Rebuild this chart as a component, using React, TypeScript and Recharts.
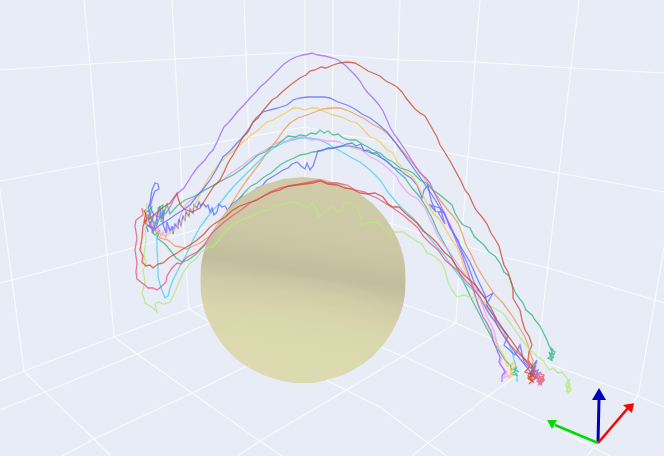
import React from 'react';
import { ComposedChart, Line, Area, XAxis, YAxis } from 'recharts';

type P = number[][];

// Back walls, floor: projected scene grid
const gridLines: P[] = [
  [[84, 0], [90, 64], [98, 163], [107, 255], [110, 290], [114, 337]],
  [[0, 190], [12, 280], [24, 371]],
  [[172, 0], [175, 59], [180, 148], [185, 253], [189, 309]],
  [[244, 0], [246, 55], [250, 180], [250, 287]],
  [[305, 0], [305, 52], [305, 268]],
  [[333, 0], [333, 55], [332, 175], [333, 278]],
  [[400, 0], [398, 60], [392, 225], [392, 300]],
  [[480, 0], [475, 62], [468, 157], [458, 287], [456, 323]],
  [[579, 0], [571, 68], [559, 173], [544, 300], [538, 360]],
  [[664, 247], [655, 300], [638, 396]],
  [[0, 70], [90, 64], [175, 59], [246, 55], [305, 52], [333, 55], [398, 60], [475, 62], [571, 68], [664, 73]],
  [[0, 181], [98, 163], [180, 148], [213, 143], [305, 127], [340, 135], [380, 140], [420, 148], [468, 157], [559, 173], [664, 192]],
  [[0, 283], [12, 280], [107, 255], [207, 227], [305, 205], [390, 223], [420, 233], [503, 257], [548, 268], [655, 300], [664, 303]],
  [[0, 381], [24, 371], [114, 337], [189, 309], [305, 268], [400, 303], [456, 323], [538, 360], [638, 396], [664, 407]],
  [[24, 371], [45, 392], [94, 439], [111, 456]],
  [[114, 337], [137, 354], [192, 393], [260, 441], [282, 456]],
  [[250, 287], [380, 347], [403, 356], [488, 396], [550, 425], [610, 456]],
  [[189, 309], [210, 322], [380, 407], [428, 443], [447, 456]],
  [[0, 410], [45, 392], [137, 354], [210, 323], [333, 273]],
  [[62, 456], [94, 439], [192, 393], [247, 366], [392, 300]],
  [[456, 323], [403, 356], [380, 370], [260, 441], [237, 456]],
  [[538, 360], [488, 396], [428, 443], [412, 456]],
  [[638, 396], [597, 443], [587, 456]],
];

const purplePath: P = [[147,216],[146,210],[150,213],[148,220],[145,222],[149,226],[153,218],[150,225],[155,230],[158,222],[156,215],[160,218],[166,213],[170,207],[174,199],[178,193],[184,188],[192,175],[197,168],[200,165],[205,160],[209,154],[213,150],[217,142],[221,133],[224,127],[229,122],[234,116],[238,111],[244,105],[250,98],[256,92],[260,87],[265,83],[271,77],[275,73],[279,69],[284,64],[290,60],[296,57],[303,55],[308,54],[312,53],[318,55],[325,56],[333,58],[338,60],[345,65],[350,70],[355,75],[360,81],[364,88],[368,93],[374,99],[379,105],[383,111],[387,120],[390,127],[394,134],[399,141],[404,148],[409,156],[414,164],[420,173],[426,178],[430,183],[433,190],[437,198],[441,206],[445,215],[450,226],[455,238],[460,250],[465,264],[470,279],[473,288],[478,304],[483,317],[487,323],[491,331],[493,340],[497,350],[500,357],[499,362],[503,368],[505,372],[502,376],[502,382]];

const redHighPath: P = [[146,212],[144,222],[150,218],[155,214],[162,208],[170,203],[177,193],[178,198],[180,204],[184,209],[192,212],[200,208],[205,200],[210,192],[214,186],[220,180],[224,172],[228,163],[233,155],[238,146],[243,137],[248,132],[253,122],[258,118],[262,112],[267,106],[272,100],[277,97],[282,92],[288,87],[293,83],[300,78],[306,75],[310,71],[315,70],[321,67],[326,68],[333,65],[340,63],[347,62],[355,63],[362,67],[368,71],[373,73],[380,76],[386,81],[392,84],[397,87],[402,92],[406,98],[410,103],[415,109],[420,113],[425,116],[429,123],[433,130],[437,137],[440,145],[444,151],[450,161],[456,172],[461,181],[465,190],[469,195],[473,204],[476,210],[482,217],[487,224],[491,233],[495,239],[499,246],[501,254],[504,265],[508,272],[512,285],[513,290],[513,298],[517,305],[520,310],[522,320],[525,330],[529,336],[532,345],[529,352],[528,360],[532,366],[534,373],[530,378],[533,382],[528,376],[532,370],[529,380]];

const bluePath: P = [[150,226],[155,229],[160,225],[168,220],[175,215],[183,210],[190,205],[197,196],[204,188],[210,180],[216,170],[223,157],[230,151],[237,143],[243,137],[250,127],[256,118],[263,112],[270,110],[278,108],[287,105],[293,100],[300,98],[308,97],[317,97],[324,97],[330,98],[338,102],[347,105],[355,109],[362,114],[370,118],[378,124],[387,132],[395,142],[403,153],[410,163],[417,173],[424,183],[432,195],[440,208],[445,215],[450,225],[456,238],[462,249],[470,262],[477,278],[485,295],[488,307],[494,316],[497,325],[503,335],[510,345],[516,354],[525,365],[529,370],[532,375],[536,366],[533,372],[537,360],[531,368],[535,375]];

const blueNoisyPath: P = [[148,232],[146,224],[151,228],[148,218],[150,212],[148,208],[150,203],[152,190],[155,183],[158,184],[159,189],[155,191],[153,196],[150,207],[154,215],[150,224],[153,232],[156,222],[158,212],[160,206],[161,218],[164,210],[163,224],[166,233],[167,222],[170,231],[172,226],[173,234],[175,224],[178,228],[179,219],[181,225],[183,216],[185,220],[186,212],[189,216],[190,209],[193,213],[194,205],[197,208],[199,202],[201,206],[203,203],[206,207],[208,205],[210,212],[212,208],[214,215],[217,212],[219,204],[222,207],[225,206],[228,211],[232,204],[238,200],[243,196],[248,200],[253,192],[257,188],[262,186],[267,180],[272,177],[277,174],[283,170],[288,168],[292,164],[297,162],[301,166],[305,169],[307,163],[310,170],[313,166],[318,151],[323,150],[328,148],[333,148],[337,147],[342,146],[347,144],[352,143],[356,146],[361,144],[364,151],[368,150],[372,153],[377,153],[382,158],[388,162],[393,167],[400,170],[406,175],[411,178],[417,185],[422,198],[424,190],[428,185],[431,200],[436,212],[430,205],[440,208],[445,224],[438,212],[444,212],[450,228],[458,240],[462,252],[468,265],[474,282],[478,290],[485,298],[493,293],[486,305],[493,315],[500,325],[508,336],[504,345],[515,355],[520,345],[524,362],[530,368],[534,366],[531,374],[537,378],[533,372],[538,370],[534,380]];

const orangePath: P = [[150,222],[155,230],[160,238],[168,240],[175,246],[180,247],[187,249],[193,246],[200,243],[210,236],[218,226],[225,214],[232,203],[240,190],[247,180],[253,172],[260,163],[266,154],[272,146],[277,140],[283,131],[290,123],[298,118],[307,115],[315,112],[323,109],[331,108],[340,108],[349,111],[357,115],[365,119],[372,124],[380,128],[388,134],[394,141],[400,148],[410,160],[420,172],[428,183],[434,192],[440,200],[447,209],[453,216],[458,223],[462,233],[466,245],[470,252],[476,265],[483,277],[489,286],[495,295],[503,303],[508,310],[513,317],[519,327],[525,337],[528,345],[530,353],[533,360],[532,367]];

const yellowPath: P = [[146,224],[150,215],[153,228],[158,232],[165,236],[172,232],[180,224],[187,215],[194,207],[200,195],[207,180],[213,172],[220,163],[227,156],[235,150],[243,142],[250,136],[258,130],[267,122],[273,120],[280,116],[287,112],[293,108],[298,108],[305,110],[311,108],[317,108],[323,111],[333,115],[342,117],[350,121],[357,123],[363,129],[370,137],[376,139],[380,142],[387,150],[393,153],[397,162],[400,165],[406,172],[413,177],[419,188],[427,203],[433,213],[440,220],[446,230],[452,240],[457,247],[462,261],[466,272],[470,280],[475,297],[480,310],[486,322],[490,331],[496,342],[501,351],[505,358],[507,366],[513,363],[510,370],[513,375],[509,378],[511,372],[515,366]];

const greenHighPath: P = [[148,212],[152,206],[150,218],[156,224],[160,218],[158,208],[163,205],[161,222],[165,210],[167,204],[170,214],[177,206],[185,200],[195,196],[205,190],[214,185],[223,180],[233,175],[243,168],[250,162],[258,155],[265,152],[270,148],[276,146],[283,140],[288,136],[295,137],[300,135],[306,136],[311,133],[316,134],[320,130],[324,133],[328,131],[333,135],[338,134],[343,138],[350,140],[356,140],[362,144],[368,147],[373,150],[380,153],[387,159],[393,162],[400,168],[407,170],[413,173],[420,180],[426,183],[433,190],[440,195],[446,200],[452,205],[455,213],[459,220],[463,225],[470,228],[474,236],[478,240],[484,245],[489,252],[495,256],[500,263],[504,272],[509,276],[513,287],[515,292],[519,298],[523,303],[526,310],[532,315],[535,320],[540,326],[544,334],[547,340],[549,346],[553,350],[551,354],[554,358],[549,352],[552,360],[548,358],[553,354],[550,348],[555,352],[551,361]];

const greenLowPath: P = [[150,216],[154,224],[152,232],[155,235],[160,230],[157,238],[165,244],[170,250],[176,258],[182,262],[188,260],[195,255],[202,248],[210,240],[216,232],[222,222],[230,210],[237,201],[245,192],[251,186],[257,183],[264,177],[271,173],[280,165],[287,161],[294,158],[300,155],[306,154],[313,152],[320,151],[327,149],[335,148],[342,146],[350,146],[360,148],[368,152],[376,155],[385,160],[392,166],[398,172],[405,178],[412,188],[419,196],[425,205],[432,218],[438,232],[445,245],[451,256],[458,270],[465,285],[472,300],[480,315],[486,327],[492,338],[495,345],[500,352],[505,360],[510,365],[512,370],[517,367],[514,372],[518,376],[512,374],[516,370],[519,372],[513,368]];

const magentaPath: P = [[145,212],[149,218],[152,226],[156,232],[158,228],[161,236],[163,232],[166,238],[168,228],[172,230],[178,222],[182,212],[187,203],[195,197],[204,190],[213,186],[223,180],[231,173],[237,169],[243,165],[250,159],[258,154],[265,150],[273,145],[279,142],[286,141],[293,138],[303,137],[311,140],[318,139],[326,141],[334,141],[340,142],[347,146],[354,148],[362,150],[370,157],[377,160],[383,164],[390,170],[397,177],[399,182],[403,187],[407,192],[412,196],[417,198],[421,203],[425,208],[429,217],[434,227],[438,237],[445,246],[451,254],[457,263],[464,273],[471,283],[477,290],[483,307],[487,317],[492,326],[495,335],[498,347],[497,352],[501,358],[500,365],[505,370],[504,378],[508,376],[503,369],[507,372],[502,374]];

const cyanPath: P = [[157,233],[157,250],[158,265],[158,277],[161,288],[165,298],[168,296],[170,288],[173,280],[180,266],[186,255],[193,240],[200,227],[206,219],[213,210],[220,203],[228,193],[234,186],[240,180],[248,172],[256,164],[263,157],[272,149],[283,143],[292,140],[301,138],[310,138],[320,140],[328,144],[333,147],[342,152],[352,158],[360,162],[370,170],[380,180],[388,192],[397,203],[405,211],[413,218],[420,226],[428,236],[437,247],[444,255],[451,265],[457,273],[465,283],[472,289],[477,293],[484,306],[491,317],[497,323],[503,330],[508,342],[512,352],[515,363],[517,372],[517,382]];

const redLowPath: P = [[144,210],[147,218],[143,226],[142,238],[140,250],[143,256],[142,262],[146,266],[150,265],[153,268],[158,264],[163,263],[170,257],[177,253],[183,249],[190,245],[197,240],[204,234],[210,227],[217,222],[225,217],[233,210],[240,206],[248,203],[257,200],[264,196],[272,192],[280,190],[288,186],[296,185],[305,184],[313,183],[320,181],[328,184],[337,185],[345,188],[352,189],[360,193],[368,194],[375,193],[383,197],[388,204],[393,207],[399,207],[405,213],[411,218],[417,223],[423,231],[430,236],[437,243],[444,252],[451,258],[457,267],[464,275],[471,281],[477,287],[484,297],[491,308],[497,320],[505,332],[511,340],[518,350],[525,360],[530,366],[525,372],[533,375],[528,378],[533,382],[530,372],[535,378],[529,384]];

const pinkPath: P = [[142,208],[143,215],[136,220],[135,226],[137,238],[135,250],[137,263],[136,272],[137,279],[142,283],[145,285],[148,288],[153,288],[157,290],[161,287],[166,282],[167,276],[172,268],[177,263],[181,264],[187,257],[197,252],[204,245],[212,233],[223,223],[232,216],[241,210],[250,203],[260,198],[270,192],[280,188],[290,186],[300,184],[310,182],[320,180],[328,183],[337,183],[347,185],[355,190],[365,192],[372,196],[377,198],[385,203],[393,208],[403,215],[410,221],[417,227],[424,237],[431,244],[438,250],[445,260],[451,265],[457,270],[465,280],[473,288],[480,297],[489,313],[497,325],[505,338],[510,345],[519,354],[528,362],[534,368],[537,375],[541,372],[536,378],[543,376],[539,384],[545,380],[537,381],[541,385],[544,375],[538,373],[542,382],[536,376],[540,383],[544,378]];

const limePath: P = [[147,203],[146,214],[148,222],[145,228],[146,240],[144,255],[146,264],[143,270],[145,282],[142,293],[144,298],[145,303],[150,306],[153,308],[157,312],[155,304],[158,302],[163,304],[168,303],[170,302],[175,292],[178,284],[183,273],[190,263],[196,259],[201,252],[209,247],[213,247],[219,240],[224,233],[230,227],[238,222],[246,218],[254,215],[262,211],[270,210],[276,205],[283,204],[290,202],[297,203],[303,206],[307,208],[313,203],[316,209],[318,217],[324,213],[328,209],[333,207],[338,212],[342,210],[345,202],[351,204],[357,207],[360,215],[362,225],[368,223],[377,222],[381,226],[385,230],[388,235],[394,232],[403,232],[409,236],[415,240],[422,244],[427,253],[434,256],[441,262],[445,270],[448,282],[452,290],[457,297],[464,295],[470,297],[478,298],[487,304],[497,310],[503,313],[508,320],[515,330],[522,340],[530,350],[538,357],[544,362],[549,370],[553,368],[558,373],[562,372],[567,378],[570,384],[566,392],[570,386],[567,380],[571,390],[568,393],[566,384],[570,379],[567,388],[569,392]];

// Sphere silhouette: x, upper edge, lower edge
const sphereEdge: P = [[200.5,280,280],[201,266,294],[202,260,300],[203,255,305],[205,248,312],[208,240,320],[213,230,330],[218,222,338],[223,215,345],[233,204,356],[243,196,364],[253,190,370],[263,185,375],[273,182,378],[283,179,381],[293,178,383],[303,177,383],[313,178,383],[323,179,381],[333,182,378],[343,185,375],[353,190,370],[363,196,364],[373,204,356],[383,215,345],[388,222,338],[393,230,330],[398,240,320],[401,248,312],[403,255,305],[404,260,300],[405,266,294],[405.5,280,280]];

// Lighter shading arcs in the lower part of the sphere: x, arc, lower edge
const sphereGlowA: P = [[201,284,294],[202,282,300],[205,280,312],[213,278,330],[223,277,345],[243,276,364],[263,276,375],[283,276,381],[303,277,383],[323,280,381],[343,284,375],[363,290,364],[383,300,345],[393,306,330],[398,309,320],[401,311,312]];
const sphereGlowB: P = [[205,311,312],[208,308,320],[213,304,330],[223,299,345],[243,294,364],[263,291,375],[283,289,381],[303,288,383],[323,290,381],[343,294,375],[363,301,364],[383,313,345],[390,320,336],[393,326,330]];
const sphereGlowC: P = [[223,330,345],[243,315,364],[263,307,375],[283,303,381],[303,301,383],[323,303,381],[343,308,375],[363,318,364],[380,338,348]];

const arrowStems: { path: P; color: string; width: number }[] = [
  { path: [[598, 443], [599, 400]], color: '#0000b8', width: 3 },
  { path: [[598, 443], [628, 408]], color: '#ff0000', width: 2.5 },
  { path: [[598, 443], [555, 425]], color: '#00dd00', width: 2.5 },
];
const arrowHeads: { tri: P; color: string }[] = [
  { tri: [[592, 400, 400], [599, 388, 400], [606, 400, 400]], color: '#0000b8' },
  { tri: [[623, 405, 405], [632, 403.4, 413], [634, 403, 403]], color: '#ff0000' },
  { tri: [[547, 420, 420], [552, 420, 429], [557, 420, 420]], color: '#00dd00' },
];

const toXY = (p: P) => p.map(([x, y]) => ({ x, y }));
const toBand = (p: P) => p.map(([x, a, b]) => ({ x, r: [a, b] }));

const behind: { path: P; color: string }[] = [
  { path: greenLowPath, color: '#38b884' },
  { path: orangePath, color: '#f09a55' },
  { path: cyanPath, color: '#4fd0f0' },
  { path: magentaPath, color: '#f09cf8' },
  { path: blueNoisyPath, color: '#636efa' },
];
const front: { path: P; color: string }[] = [
  { path: yellowPath, color: '#f8c850' },
  { path: greenHighPath, color: '#38b884' },
  { path: bluePath, color: '#636efa' },
  { path: purplePath, color: '#a566f8' },
  { path: redHighPath, color: '#cf4f35' },
  { path: limePath, color: '#b6e880' },
  { path: pinkPath, color: '#e8557e' },
  { path: redLowPath, color: '#d44a2e' },
];

const line = (path: P, color: string, key: string, z: number, width = 1.3, opacity = 0.8) => (
  <Line
    key={key}
    data={toXY(path)}
    dataKey="y"
    type="linear"
    dot={false}
    activeDot={false}
    legendType="none"
    stroke={color}
    strokeWidth={width}
    strokeOpacity={opacity}
    isAnimationActive={false}
    {...({ zIndex: z } as any)}
  />
);

const band = (p: P, fill: string, opacity: number, key: string, z: number) => (
  <Area
    key={key}
    data={toBand(p)}
    dataKey="r"
    type="linear"
    stroke="none"
    fill={fill}
    fillOpacity={opacity}
    dot={false}
    activeDot={false}
    isAnimationActive={false}
    {...({ zIndex: z } as any)}
  />
);

export default function App() {
  return (
    <div style={{ position: 'absolute', left: 0, top: 0, width: 664, height: 456, background: '#e7ecf6', overflow: 'hidden' }}>
      <ComposedChart width={664} height={456} margin={{ top: 0, right: 0, bottom: 0, left: 0 }}>
        <defs>
          <linearGradient id="sphereShade" x1="0.58" y1="0" x2="0.42" y2="1">
            <stop offset="0" stopColor="#cfcaa5" />
            <stop offset="0.3" stopColor="#cbc6a1" />
            <stop offset="0.46" stopColor="#c0bb98" />
            <stop offset="0.56" stopColor="#cdc8a3" />
            <stop offset="0.7" stopColor="#d8d4aa" />
            <stop offset="1" stopColor="#dedbb0" />
          </linearGradient>
        </defs>
        <XAxis type="number" dataKey="x" domain={[0, 664]} hide allowDataOverflow />
        <YAxis type="number" domain={[0, 456]} reversed hide allowDataOverflow />
        {gridLines.map((g, i) => line(g, '#ffffff', `grid${i}`, 10, 1.2, 0.75))}
        {behind.map((s, i) => line(s.path, s.color, `b${i}`, 20))}
        {band(sphereEdge, 'url(#sphereShade)', 0.96, 'sphere', 30)}
        {band(sphereGlowA, '#dedbb0', 0.1, 'glowA', 31)}
        {band(sphereGlowB, '#dedbb0', 0.12, 'glowB', 32)}
        {band(sphereGlowC, '#e0ddb2', 0.1, 'glowC', 33)}
        {front.map((s, i) => line(s.path, s.color, `f${i}`, 40))}
        {arrowStems.map((a, i) => line(a.path, a.color, `st${i}`, 50, a.width, 1))}
        {arrowHeads.map((a, i) => band(a.tri, a.color, 1, `h${i}`, 60))}
      </ComposedChart>
    </div>
  );
}
